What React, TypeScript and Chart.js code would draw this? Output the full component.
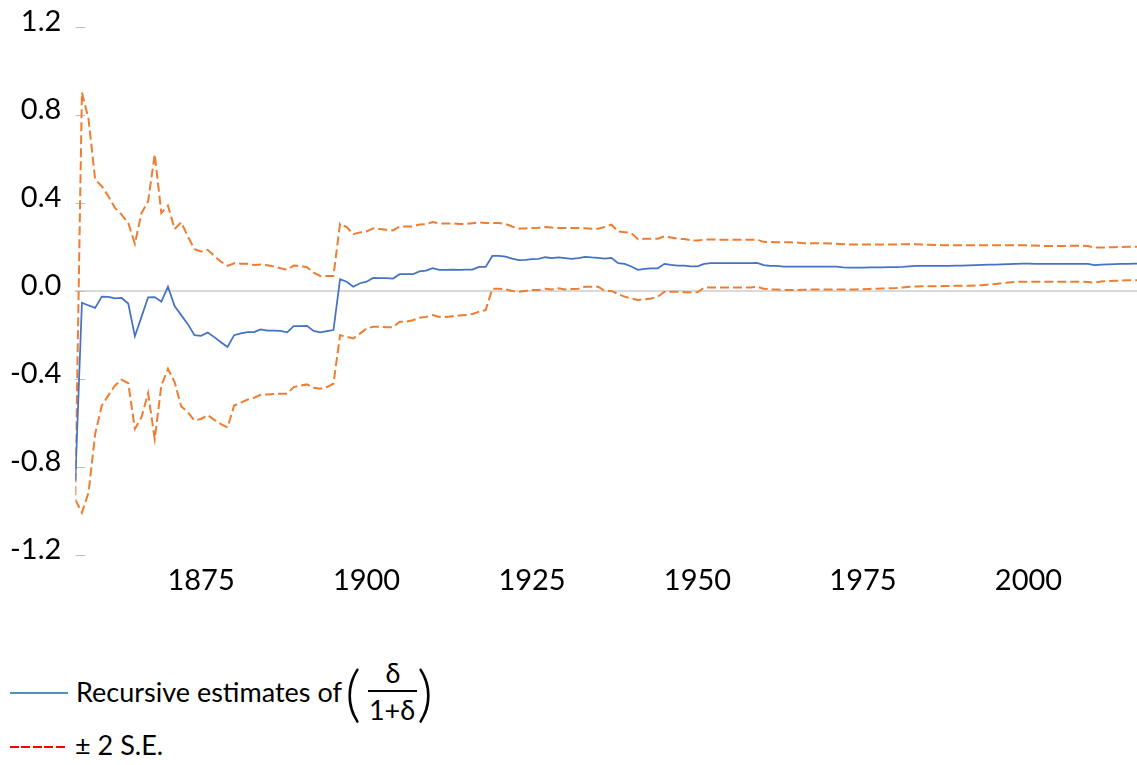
import { useEffect, useRef } from "react";
import { Chart, registerables } from "chart.js";

Chart.register(...registerables);

const FIRST_YEAR = 1856;

// Recursive estimates of delta/(1+delta), 1856..2017
const RECURSIVE = [
  -0.864, -0.055, -0.067, -0.078, -0.027, -0.028, -0.035, -0.033, -0.058, -0.207,
  -0.119, -0.030, -0.029, -0.050, 0.018, -0.070, -0.111, -0.152, -0.202, -0.205,
  -0.190, -0.211, -0.234, -0.256, -0.202, -0.194, -0.188, -0.188, -0.176, -0.181,
  -0.181, -0.183, -0.189, -0.161, -0.161, -0.160, -0.183, -0.189, -0.184, -0.179,
  0.052, 0.041, 0.018, 0.034, 0.041, 0.058, 0.057, 0.057, 0.055, 0.075,
  0.075, 0.075, 0.088, 0.091, 0.102, 0.095, 0.095, 0.096, 0.095, 0.096,
  0.096, 0.108, 0.108, 0.158, 0.158, 0.155, 0.146, 0.139, 0.140, 0.143,
  0.145, 0.152, 0.148, 0.151, 0.148, 0.145, 0.148, 0.154, 0.151, 0.149,
  0.146, 0.149, 0.125, 0.122, 0.110, 0.095, 0.099, 0.102, 0.102, 0.122,
  0.117, 0.114, 0.114, 0.111, 0.111, 0.122, 0.125, 0.125, 0.125, 0.125,
  0.125, 0.125, 0.125, 0.126, 0.116, 0.113, 0.113, 0.110, 0.110, 0.110,
  0.110, 0.110, 0.110, 0.110, 0.110, 0.109, 0.106, 0.105, 0.105, 0.105,
  0.106, 0.106, 0.106, 0.107, 0.107, 0.108, 0.111, 0.113, 0.113, 0.113,
  0.113, 0.113, 0.113, 0.114, 0.114, 0.115, 0.116, 0.117, 0.118, 0.119,
  0.120, 0.121, 0.122, 0.123, 0.123, 0.122, 0.122, 0.122, 0.122, 0.122,
  0.122, 0.122, 0.122, 0.122, 0.116, 0.118, 0.120, 0.121, 0.122, 0.122,
  0.123, 0.123,
];

// + 2 S.E. band
const UPPER = [
  -0.930, 0.901, 0.779, 0.505, 0.475, 0.429, 0.376, 0.346, 0.308, 0.213,
  0.353, 0.406, 0.620, 0.353, 0.387, 0.280, 0.311, 0.247, 0.189, 0.178,
  0.186, 0.158, 0.132, 0.113, 0.125, 0.123, 0.122, 0.117, 0.119, 0.116,
  0.110, 0.102, 0.095, 0.114, 0.113, 0.107, 0.082, 0.067, 0.067, 0.067,
  0.305, 0.289, 0.257, 0.265, 0.269, 0.283, 0.280, 0.277, 0.274, 0.292,
  0.292, 0.292, 0.301, 0.303, 0.312, 0.306, 0.306, 0.306, 0.303, 0.303,
  0.307, 0.310, 0.308, 0.308, 0.308, 0.303, 0.292, 0.283, 0.283, 0.285,
  0.286, 0.289, 0.287, 0.285, 0.285, 0.285, 0.285, 0.284, 0.282, 0.282,
  0.290, 0.300, 0.269, 0.266, 0.262, 0.234, 0.236, 0.236, 0.236, 0.247,
  0.242, 0.236, 0.235, 0.229, 0.228, 0.232, 0.233, 0.232, 0.232, 0.232,
  0.232, 0.232, 0.232, 0.232, 0.222, 0.221, 0.220, 0.220, 0.220, 0.219,
  0.216, 0.216, 0.216, 0.216, 0.215, 0.213, 0.211, 0.210, 0.210, 0.210,
  0.210, 0.210, 0.210, 0.210, 0.210, 0.211, 0.211, 0.211, 0.210, 0.209,
  0.208, 0.207, 0.207, 0.207, 0.207, 0.207, 0.207, 0.207, 0.207, 0.207,
  0.207, 0.207, 0.207, 0.207, 0.206, 0.205, 0.204, 0.203, 0.203, 0.203,
  0.204, 0.204, 0.204, 0.203, 0.196, 0.196, 0.197, 0.198, 0.199, 0.200,
  0.200, 0.200,
];

// - 2 S.E. band
const LOWER = [
  -0.950, -1.009, -0.918, -0.651, -0.522, -0.476, -0.431, -0.405, -0.420, -0.628,
  -0.575, -0.466, -0.674, -0.431, -0.355, -0.415, -0.526, -0.552, -0.590, -0.583,
  -0.565, -0.587, -0.606, -0.621, -0.522, -0.509, -0.495, -0.487, -0.473, -0.472,
  -0.470, -0.468, -0.468, -0.438, -0.432, -0.426, -0.441, -0.446, -0.438, -0.423,
  -0.202, -0.210, -0.217, -0.195, -0.172, -0.164, -0.164, -0.166, -0.166, -0.141,
  -0.141, -0.134, -0.123, -0.119, -0.111, -0.119, -0.119, -0.116, -0.113, -0.111,
  -0.106, -0.095, -0.088, 0.009, 0.009, 0.006, -0.001, -0.005, -0.001, 0.003,
  0.003, 0.009, 0.006, 0.011, 0.006, 0.008, 0.009, 0.018, 0.018, 0.018,
  -0.001, -0.001, -0.015, -0.027, -0.035, -0.042, -0.039, -0.035, -0.027, -0.005,
  -0.005, -0.005, -0.007, -0.007, -0.007, 0.014, 0.015, 0.015, 0.015, 0.015,
  0.015, 0.015, 0.015, 0.018, 0.009, 0.006, 0.006, 0.003, 0.003, 0.003,
  0.004, 0.005, 0.005, 0.006, 0.006, 0.006, 0.006, 0.006, 0.006, 0.007,
  0.008, 0.009, 0.010, 0.011, 0.012, 0.015, 0.018, 0.019, 0.020, 0.020,
  0.020, 0.021, 0.021, 0.022, 0.022, 0.023, 0.024, 0.025, 0.028, 0.031,
  0.034, 0.037, 0.040, 0.041, 0.041, 0.041, 0.041, 0.041, 0.041, 0.041,
  0.041, 0.041, 0.041, 0.039, 0.037, 0.042, 0.044, 0.045, 0.046, 0.047,
  0.047, 0.047,
];

const X_TICKS = [1875, 1900, 1925, 1950, 1975, 2000];
const Y_TICKS = [-1.2, -0.8, -0.4, 0.0, 0.4, 0.8, 1.2];

const BLUE = "#4472C4";
const ORANGE = "#ED7D31";
const FONT = "Lato, 'Open Sans', sans-serif";

const toPoints = (vals: number[]) => vals.map((v, i) => ({ x: FIRST_YEAR + i, y: v }));

const tickMarks = {
  id: "tickMarks",
  beforeDatasetsDraw(chart: any) {
    const { ctx, chartArea, scales } = chart;
    const ys = scales.y;
    ctx.save();
    ctx.strokeStyle = "#bfbfbf";
    ctx.lineWidth = 1;
    ys.ticks.forEach((t: any) => {
      const py = Math.round(ys.getPixelForValue(t.value)) + 0.5;
      ctx.beginPath();
      ctx.moveTo(chartArea.left, py);
      ctx.lineTo(chartArea.left + 10, py);
      ctx.stroke();
    });
    ctx.restore();
  },
};

export default function App() {
  const ref = useRef<HTMLCanvasElement>(null);

  useEffect(() => {
    if (!ref.current) return;
    const chart = new Chart(ref.current, {
      type: "line",
      data: {
        datasets: [
          {
            label: "Recursive estimates",
            data: toPoints(RECURSIVE),
            borderColor: BLUE,
            borderWidth: 1.75,
            pointRadius: 0,
            tension: 0,
            order: 0,
          },
          {
            label: "+2 S.E.",
            data: toPoints(UPPER),
            borderColor: ORANGE,
            borderWidth: 2,
            borderDash: [9, 4],
            pointRadius: 0,
            tension: 0,
            order: 1,
          },
          {
            label: "-2 S.E.",
            data: toPoints(LOWER),
            borderColor: ORANGE,
            borderWidth: 2,
            borderDash: [9, 4],
            pointRadius: 0,
            tension: 0,
            order: 1,
          },
        ],
      },
      options: {
        responsive: false,
        animation: false,
        events: [],
        layout: { padding: { top: 26.7, left: 0, right: 0, bottom: 0 } },
        plugins: { legend: { display: false }, tooltip: { enabled: false } },
        scales: {
          x: {
            type: "linear",
            min: 1856,
            max: 2016.4,
            afterBuildTicks: (s: any) => {
              s.ticks = X_TICKS.map((v) => ({ value: v }));
            },
            afterFit: (s: any) => {
              s.height = 65.3;
              s.paddingLeft = 0;
              s.paddingRight = 0;
            },
            grid: { display: false, drawTicks: false },
            border: { display: false },
            ticks: {
              font: { family: FONT, size: 29 },
              color: "#000",
              padding: 9,
              maxRotation: 0,
              autoSkip: false,
              callback: (v: any) => String(v),
            },
          },
          y: {
            min: -1.2,
            max: 1.2,
            afterBuildTicks: (s: any) => {
              s.ticks = Y_TICKS.map((v) => ({ value: v }));
            },
            afterFit: (s: any) => {
              s.width = 75.3;
              s.paddingTop = 0;
              s.paddingBottom = 0;
            },
            grid: {
              drawTicks: false,
              color: (c: any) =>
                c.tick && Math.abs(c.tick.value) < 1e-9 ? "#d9d9d9" : "rgba(0,0,0,0)",
              lineWidth: 2,
            },
            border: { display: false },
            ticks: {
              font: { family: FONT, size: 29 },
              color: "#000",
              padding: 14,
              labelOffset: -5,
              callback: (v: any) => (Math.abs(Number(v)) < 1e-9 ? "0.0" : Number(v).toFixed(1)),
            },
          },
        },
      },
      plugins: [tickMarks],
    });
    return () => chart.destroy();
  }, []);

  const txt: any = {
    position: "absolute",
    fontFamily: FONT,
    fontSize: 27,
    lineHeight: 1,
    whiteSpace: "nowrap",
    color: "#000",
  };

  return (
    <div style={{ position: "absolute", left: 0, top: 0, width: 1137, height: 765, overflow: "hidden", background: "#fff" }}>
      <canvas ref={ref} width={1137} height={620} style={{ position: "absolute", left: 0, top: 0 }} />
      {/* legend row 1 */}
      <div style={{ position: "absolute", left: 10, top: 692.3, width: 58, height: 2, background: "#4a96b4" }} />
      <div style={{ ...txt, left: 76, top: 677.8 }}>Recursive estimates of</div>
      <div style={{ ...txt, left: 345, top: 659.6, fontSize: 62, fontWeight: 300 }}>(</div>
      <div style={{ ...txt, left: 368, top: 659, width: 50, textAlign: "center" }}>δ</div>
      <div style={{ position: "absolute", left: 368, top: 689.5, width: 49, height: 2.5, background: "#000" }} />
      <div style={{ ...txt, left: 367, top: 696, width: 50, textAlign: "center" }}>1+δ</div>
      <div style={{ ...txt, left: 417, top: 659.6, fontSize: 62, fontWeight: 300 }}>)</div>
      {/* legend row 2 */}
      <div
        style={{
          position: "absolute",
          left: 10,
          top: 746.3,
          width: 55,
          height: 2,
          background: "repeating-linear-gradient(to right, #ff0000 0px, #ff0000 9px, transparent 9px, transparent 11.5px)",
        }}
      />
      <div style={{ ...txt, left: 75, top: 731 }}>± 2 S.E.</div>
    </div>
  );
}
